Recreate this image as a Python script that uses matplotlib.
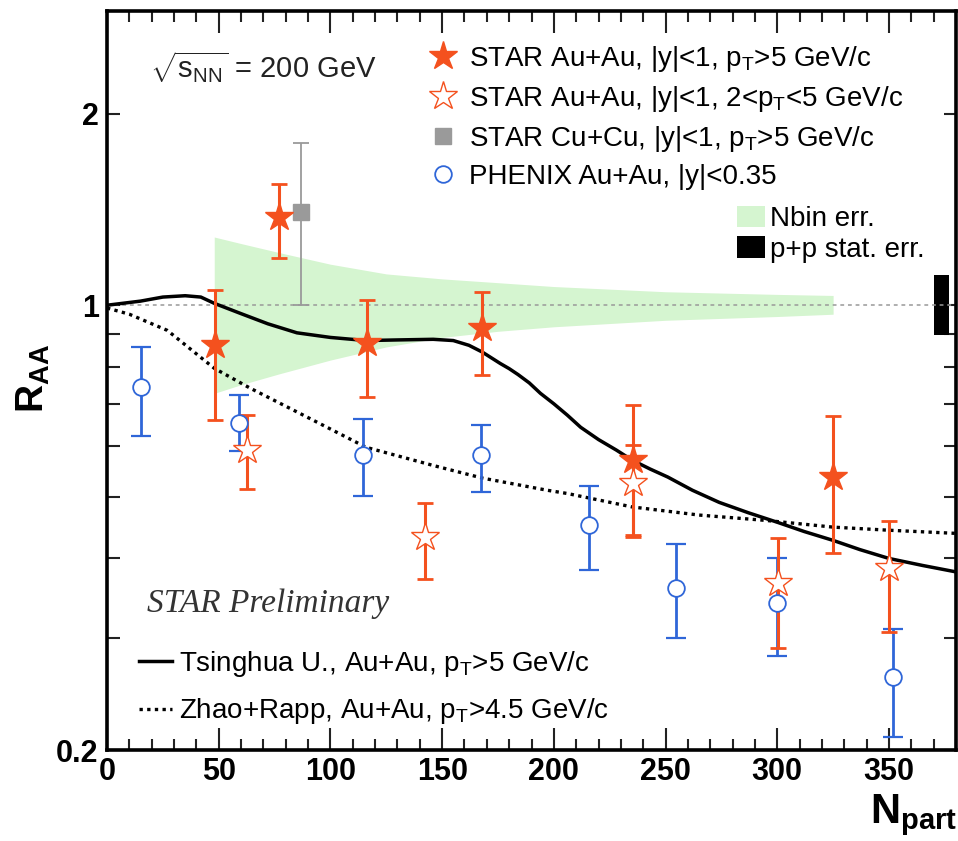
import matplotlib
matplotlib.use("Agg")
import matplotlib.pyplot as plt
import numpy as np
from matplotlib.ticker import NullFormatter

plt.rcParams['font.family'] = ['Liberation Sans', 'DejaVu Sans']
plt.rcParams['mathtext.fontset'] = 'custom'
plt.rcParams['mathtext.rm'] = 'Liberation Sans'
plt.rcParams['mathtext.it'] = 'Liberation Sans:italic'
plt.rcParams['mathtext.bf'] = 'Liberation Sans:bold'

RED = '#f4511e'
BLUE = '#2f66d8'
GRAY = '#9a9a9a'

# STAR Au+Au, pT > 5 GeV/c
star_hi_n = [48.3, 76.9, 116.3, 167.8, 235.3, 324.8]
star_hi_r = [0.865, 1.375, 0.872, 0.92, 0.571, 0.537]
star_hi_up = [1.055, 1.55, 1.02, 1.05, 0.696, 0.669]
star_hi_dn = [0.66, 1.185, 0.717, 0.776, 0.435, 0.408]

# STAR Au+Au, 2 < pT < 5 GeV/c
star_lo_n = [62.6, 142.3, 235.5, 300.2, 350.0]
star_lo_r = [0.592, 0.432, 0.525, 0.366, 0.386]
star_lo_up = [0.671, 0.489, 0.603, 0.43, 0.458]
star_lo_dn = [0.514, 0.372, 0.432, 0.289, 0.306]

# STAR Cu+Cu
cucu_n = [86.8]
cucu_r = [1.40]
cucu_up = [1.80]
cucu_dn = [1.0]

# PHENIX Au+Au
phenix_n = [15.2, 59.0, 114.5, 167.3, 215.7, 254.6, 300.0, 351.7]
phenix_r = [0.743, 0.653, 0.581, 0.581, 0.451, 0.36, 0.34, 0.26]
phenix_up = [0.859, 0.722, 0.662, 0.648, 0.52, 0.421, 0.40, 0.31]
phenix_dn = [0.623, 0.59, 0.501, 0.508, 0.383, 0.30, 0.281, 0.21]

# model curves
tsinghua_n = [0, 15, 25, 35, 42, 48, 60, 72, 85, 100, 116, 130, 146, 155, 162, 168,
              176, 180, 184, 189, 194, 200, 206, 212, 220, 228, 235, 243, 251, 262,
              274, 287, 300, 312, 325, 337, 350, 365, 380]
tsinghua_r = [1.0, 1.015, 1.03, 1.035, 1.03, 1.007, 0.97, 0.935, 0.905, 0.89, 0.88, 0.882,
              0.884, 0.88, 0.865, 0.844, 0.81, 0.795, 0.778, 0.755, 0.727, 0.70, 0.672,
              0.643, 0.615, 0.592, 0.571, 0.553, 0.537, 0.512, 0.49, 0.472, 0.456,
              0.441, 0.427, 0.413, 0.40, 0.39, 0.381]
rapp_n = [0, 10, 27, 48, 64, 86, 116, 146, 168, 197, 206, 235, 265, 295, 325, 350, 380]
rapp_r = [0.99, 0.968, 0.913, 0.796, 0.741, 0.677, 0.598, 0.56, 0.535, 0.512, 0.506,
          0.482, 0.468, 0.459, 0.448, 0.443, 0.438]

# Nbin uncertainty band
band_n = [48, 60, 77, 100, 125, 150, 175, 200, 250, 300, 325]
band_hi = [1.28, 1.25, 1.21, 1.16, 1.12, 1.10, 1.085, 1.07, 1.05, 1.04, 1.036]
band_lo = [0.727, 0.75, 0.78, 0.82, 0.86, 0.89, 0.91, 0.925, 0.947, 0.96, 0.968]

# p+p stat. error box
pp_n = [370, 377]
pp_lo = [0.897, 0.897]
pp_hi = [1.115, 1.115]

x_major = [0, 50, 100, 150, 200, 250, 300, 350]
y_major = [0.2, 1, 2]
y_major_labels = ['0.2', '1', '2']
y_minor = [0.3, 0.4, 0.5, 0.6, 0.7, 0.8, 0.9]

fig = plt.figure(figsize=(9.58, 8.41), dpi=100)
ax = fig.add_axes([107 / 958, 91 / 841, 849 / 958, 739 / 841])
ax.set_yscale('log')

band = ax.fill_between(band_n, band_lo, band_hi, color='#d5f5d0', lw=0, zorder=1,
                       label='Nbin err.')
ppbox = ax.fill_between(pp_n, pp_lo, pp_hi, color='black', lw=0, zorder=2,
                        label='p+p stat. err.')
ax.axhline(1, color='#999999', lw=1.1, ls=(0, (2.5, 2.5)), zorder=2)

l_ts, = ax.plot(tsinghua_n, tsinghua_r, color='black', lw=2.5, zorder=3)
l_rapp, = ax.plot(rapp_n, rapp_r, color='black', lw=2.4, ls=(0, (1, 1.3)), zorder=3)


def errs(r, up, dn):
    r = np.array(r)
    return [r - np.array(dn), np.array(up) - r]


ax.errorbar(cucu_n, cucu_r, yerr=errs(cucu_r, cucu_up, cucu_dn), fmt='none',
            ecolor=GRAY, elinewidth=1.3, capsize=6, capthick=1.3, zorder=4)
ax.errorbar(phenix_n, phenix_r, yerr=errs(phenix_r, phenix_up, phenix_dn), fmt='none',
            ecolor=BLUE, elinewidth=2, capsize=7, capthick=1.6, zorder=4)
ax.errorbar(star_lo_n, star_lo_r, yerr=errs(star_lo_r, star_lo_up, star_lo_dn), fmt='none',
            ecolor=RED, elinewidth=2.2, capsize=6, capthick=2, zorder=4)
ax.errorbar(star_hi_n, star_hi_r, yerr=errs(star_hi_r, star_hi_up, star_hi_dn), fmt='none',
            ecolor=RED, elinewidth=2.2, capsize=6, capthick=2, zorder=4)

h_sq, = ax.plot(cucu_n, cucu_r, ls='none', marker='s', ms=12, color=GRAY, zorder=5)
h_ph, = ax.plot(phenix_n, phenix_r, ls='none', marker='o', ms=12, mfc='white',
                mec=BLUE, mew=1.3, zorder=5)
h_lo, = ax.plot(star_lo_n, star_lo_r, ls='none', marker='*', ms=21, mfc='white',
                mec=RED, mew=1.0, zorder=5)
h_hi, = ax.plot(star_hi_n, star_hi_r, ls='none', marker='*', ms=21, color=RED, zorder=6)

ax.set_xlim(0, 380)
ax.set_ylim(0.2, 2.9)
ax.set_xticks(x_major, labels=[str(v) for v in x_major], fontweight='bold', fontsize=22)
ax.set_xticks(np.arange(0, 381, 10), minor=True)
ax.set_yticks(y_major, labels=y_major_labels, fontweight='bold', fontsize=22)
ax.set_yticks(y_minor, minor=True)
ax.yaxis.set_minor_formatter(NullFormatter())
ax.tick_params(which='both', direction='in', top=True, right=True, width=1.5, color='#222222')
ax.tick_params(axis='x', which='major', length=16, pad=5)
ax.tick_params(axis='x', which='minor', length=8)
ax.tick_params(axis='y', which='both', length=9, pad=6)
for s in ax.spines.values():
    s.set_linewidth(2.6)

leg1 = ax.legend([h_hi, h_lo, h_sq, h_ph],
                 [r'STAR Au+Au, |y|<1, p$_{\mathrm{T}}$>5 GeV/c',
                  r'STAR Au+Au, |y|<1, 2<p$_{\mathrm{T}}$<5 GeV/c',
                  r'STAR Cu+Cu, |y|<1, p$_{\mathrm{T}}$>5 GeV/c',
                  'PHENIX Au+Au, |y|<0.35'],
                 loc='upper left', bbox_to_anchor=(429 / 958, 1 - 44 / 841),
                 bbox_transform=fig.transFigure, frameon=False, fontsize=20,
                 handlelength=1.0, handletextpad=0.45, labelspacing=0.36,
                 borderpad=0, borderaxespad=0, numpoints=1)
ax.add_artist(leg1)

leg2 = ax.legend([band, ppbox], ['Nbin err.', 'p+p stat. err.'],
                 loc='upper left', bbox_to_anchor=(737 / 958, 1 - 206 / 841),
                 bbox_transform=fig.transFigure, frameon=False, fontsize=20,
                 handlelength=1.0, handleheight=0.8, handletextpad=0.18,
                 labelspacing=0.15, borderpad=0, borderaxespad=0)
ax.add_artist(leg2)

ax.legend([l_ts, l_rapp],
          [r'Tsinghua U., Au+Au, p$_{\mathrm{T}}$>5 GeV/c',
           r'Zhao+Rapp, Au+Au, p$_{\mathrm{T}}$>4.5 GeV/c'],
          loc='upper left', bbox_to_anchor=(139 / 958, 1 - 649 / 841),
          bbox_transform=fig.transFigure, frameon=False, fontsize=20,
          handlelength=1.2, handletextpad=0.25, labelspacing=0.62,
          borderpad=0, borderaxespad=0)

fig.text(150 / 958, 1 - 78 / 841, r'$\sqrt{\mathrm{s}_{\mathrm{NN}}}$ = 200 GeV',
         fontsize=21, color='#222222', ha='left', va='baseline')
fig.text(147 / 958, 1 - 612 / 841, 'STAR Preliminary', fontsize=24, style='italic',
         family='Liberation Serif', color='#333333', ha='left', va='baseline')
fig.text(33 / 958, 1 - 378 / 841, r'$\mathbf{R_{AA}}$', fontsize=28, rotation=90,
         ha='center', va='center')
fig.text(957 / 958, 1 - 823 / 841, r'$\mathbf{N_{part}}$', fontsize=30,
         ha='right', va='baseline')

fig.savefig('out.png', dpi=100)
